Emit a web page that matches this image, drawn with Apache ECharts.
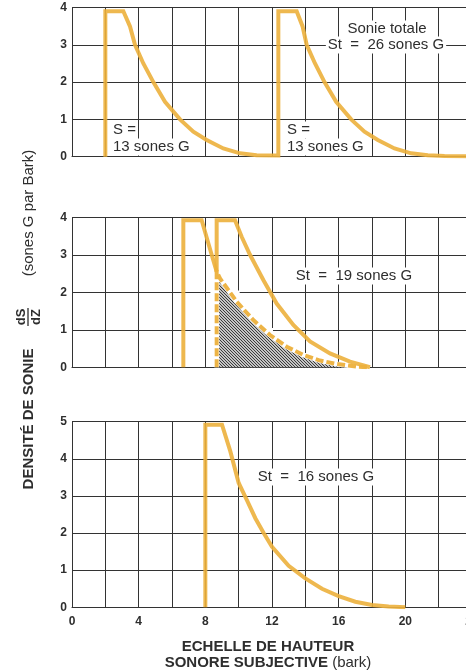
<!DOCTYPE html>
<html><head><meta charset="utf-8">
<script src="https://cdn.jsdelivr.net/npm/echarts@6/dist/echarts.min.js"></script>
<style>html,body{margin:0;padding:0;background:#fff}#c{width:466px;height:672px}</style>
</head><body><div id="c"></div>
<script>
// ---- data (bark, sones G per bark) ----
const barkLabels = [0, 4, 8, 12, 16, 20, 24];
const densityMaxTop = 4, densityMaxMid = 4, densityMaxBottom = 5;

// top panel: two equal tones, 13 sones G each
const topCurve = [[2,0],[2,3.9],[3.08,3.9],[3.48,3.49],[3.78,3.0],[4.28,2.5],[4.88,2.0],[5.58,1.47],[6.48,1.0],[7.28,0.67],[8.08,0.45],[9.08,0.22],[10.08,0.09],[11.08,0.04],[12.38,0.03],
  [12.38,3.9],[13.48,3.9],[13.83,3.5],[14.08,3.0],[14.58,2.5],[15.15,2.0],[15.85,1.47],[16.75,1.0],[17.55,0.67],[18.35,0.45],[19.35,0.22],[20.35,0.09],[21.35,0.04],[22.35,0.02],[24,0.01]];

// middle panel: masker + partially masked tone
const maskerCurve = [[6.68,0],[6.68,3.92],[7.78,3.92],[8.38,3.0],[8.68,2.55]];
const maskedEdge = [[8.68,0],[8.68,2.55]];
const maskedTail = [[8.68,2.55],[8.88,2.37],[9.88,1.75],[10.88,1.26],[11.88,0.86],[12.88,0.55],[13.88,0.33],[14.88,0.18],[15.88,0.09],[17.08,0.02],[17.88,0]];
const testCurve = [[8.68,2.55],[8.68,3.92],[9.78,3.92],[10.18,3.48],[10.68,3.0],[11.48,2.33],[12.28,1.7],[13.28,1.13],[14.28,0.69],[15.48,0.37],[16.68,0.15],[17.88,0]];
const hiddenGridCells = [[8.3,0.03,10.06,2.05],[10.06,0.03,12.06,1.05]];

// bottom panel: single tone, 16 sones G
const bottomCurve = [[8,0],[8,4.92],[9.0,4.92],[9.5,4.2],[10,3.35],[10.5,2.88],[11,2.4],[11.5,2.0],[12,1.63],[13,1.12],[14,0.78],[15,0.5],[16,0.3],[17,0.15],[18,0.06],[19,0.02],[20,0]];

// ---- styling ----
const FONT = '"Liberation Sans", Arial, Helvetica, sans-serif';
const GRID = '#333';
const YEL = '#ECB03C';
const TXT = '#2e2e2e';

function hatch(){
  const s = 3, c = document.createElement('canvas'); c.width = s; c.height = s;
  const g = c.getContext('2d'); g.fillStyle = '#fff'; g.fillRect(0,0,s,s);
  g.strokeStyle = '#333'; g.lineWidth = 1.1;
  g.beginPath(); g.moveTo(-1,-1); g.lineTo(s+1,s+1); g.moveTo(-1,s-1); g.lineTo(1,s+1); g.moveTo(s-1,-1); g.lineTo(s+1,1); g.stroke();
  return c;
}

const grids = [
  {left:72, width:400, top:7.5, height:149.2, outerBoundsMode:'none', containLabel:false},
  {left:72, width:400, top:217.3, height:150, outerBoundsMode:'none', containLabel:false},
  {left:72, width:400, top:421.7, height:185.6, outerBoundsMode:'none', containLabel:false}
];
function xAx(i, show){
  return {type:'value', gridIndex:i, min:0, max:24, interval:2,
    axisLine:{show:true, lineStyle:{color:GRID, width:1}}, axisTick:{show:false},
    splitLine:{show:true, lineStyle:{color:GRID, width:1}},
    axisLabel:{show:show, margin:8, color:TXT, fontFamily:FONT, fontSize:12, fontWeight:'bold',
      showMinLabel:true, showMaxLabel:true, hideOverlap:false,
      formatter: v => barkLabels.indexOf(v) >= 0 ? String(v) : ''}};
}
function yAx(i, max){
  return {type:'value', gridIndex:i, min:0, max:max, interval:1,
    axisLine:{show:false}, axisTick:{show:false},
    splitLine:{show:true, lineStyle:{color:GRID, width:1}},
    axisLabel:{margin:5, color:TXT, fontFamily:FONT, fontSize:12, fontWeight:'bold'}};
}
function curve(i, data, z, extra){
  return Object.assign({type:'line', xAxisIndex:i, yAxisIndex:i, data:data, symbol:'none', z:z, silent:true,
    lineStyle:{color:YEL, width:4, opacity:0.9, join:'miter', cap:'butt'}}, extra||{});
}

function label(x, y, text, align, size){
  return {type:'text', x:x, y:y, z:100, style:{text:text, fill:TXT, font:(size||15)+'px '+FONT,
    textAlign:align||'left', textVerticalAlign:'middle', backgroundColor:'#fff', padding:[1,2]}};
}

const chart = echarts.init(document.getElementById('c'), null, {renderer:'canvas'});
const hatchImg = hatch();
chart.setOption({
  animation:false,
  backgroundColor:'#fff',
  grid: grids,
  xAxis:[xAx(0,false), xAx(1,false), xAx(2,true)],
  yAxis:[yAx(0,densityMaxTop), yAx(1,densityMaxMid), yAx(2,densityMaxBottom)],
  series:[
    curve(0, topCurve, 3),
    {type:'line', xAxisIndex:1, yAxisIndex:1, data:[], z:1, silent:true, symbol:'none',
      markArea:{silent:true, label:{show:false}, itemStyle:{color:'#fff', opacity:1, borderWidth:0},
        data: hiddenGridCells.map(c => [{coord:[c[0],c[1]]},{coord:[c[2],c[3]]}])}},
    {type:'line', xAxisIndex:1, yAxisIndex:1, data: maskedEdge.concat(maskedTail.slice(1)), symbol:'none', z:2, silent:true,
      lineStyle:{color:'#fff', width:5}, areaStyle:{color:{image:hatchImg, repeat:'repeat'}, opacity:1}},
    curve(1, maskerCurve, 3),
    curve(1, testCurve, 3),
    curve(1, maskedEdge.concat(maskedTail.slice(1)), 4, {lineStyle:{color:YEL, width:4, opacity:0.95, type:[8,3], join:'miter'}}),
    curve(2, bottomCurve, 3)
  ],
  graphic:[
    label(111, 130, 'S ='),
    label(111, 147, '13 sones G'),
    label(285, 130, 'S ='),
    label(285, 147, '13 sones G'),
    label(387, 29, 'Sonie totale', 'center'),
    label(386, 45, 'St  =  26 sones G', 'center'),
    label(354, 276, 'St  =  19 sones G', 'center'),
    label(316, 477, 'St  =  16 sones G', 'center'),
    {type:'text', x:268, y:647, style:{text:'ECHELLE DE HAUTEUR', fill:TXT, font:'bold 15px '+FONT, textAlign:'center', textVerticalAlign:'middle'}},
    {type:'text', x:268, y:663, style:{text:'{b|SONORE SUBJECTIVE }{n|(bark)}', textAlign:'center', textVerticalAlign:'middle',
      rich:{b:{fill:TXT, font:'bold 15px '+FONT}, n:{fill:TXT, font:'15px '+FONT}}}},
    {type:'text', x:29, y:213, rotation:Math.PI/2, style:{text:'(sones G par Bark)', fill:TXT, font:'15px '+FONT, textAlign:'center', textVerticalAlign:'middle'}},
    {type:'text', x:29, y:419, rotation:Math.PI/2, style:{text:'DENSITÉ DE SONIE', fill:TXT, font:'bold 15px '+FONT, textAlign:'center', textVerticalAlign:'middle'}},
    {type:'group', x:28, y:317, rotation:Math.PI/2, children:[
      {type:'text', x:0, y:-7, style:{text:'dS', fill:TXT, font:'bold 13px '+FONT, textAlign:'center', textVerticalAlign:'middle'}},
      {type:'line', shape:{x1:-9, y1:0, x2:9, y2:0}, style:{stroke:TXT, lineWidth:1.3}},
      {type:'text', x:0, y:8, style:{text:'dZ', fill:TXT, font:'bold 13px '+FONT, textAlign:'center', textVerticalAlign:'middle'}}
    ]}
  ]
});
</script></body></html>
